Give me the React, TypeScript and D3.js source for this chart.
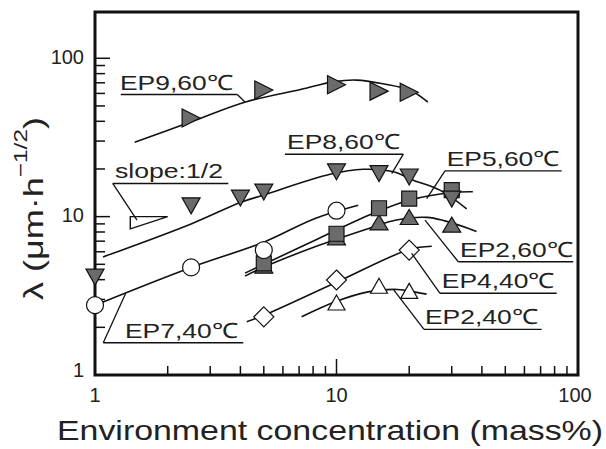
import React from 'react';
import * as d3 from 'd3';

// measured points (concentration in mass%, lambda)
const ep9X = [2.5, 5, 10, 15, 20];
const ep9Y = [42, 63, 68, 62, 61];
const ep8X = [1, 2.5, 4, 5, 10, 15, 20, 30];
const ep8Y = [4.15, 11.7, 13.1, 14.3, 19.2, 18.7, 17.8, 12.9];
const ep5X = [5, 10, 15, 20, 30];
const ep5Y = [5.07, 7.8, 11.3, 13.0, 14.7];
const ep2hX = [5, 10, 15, 20, 30];
const ep2hY = [4.9, 7.4, 9.2, 9.95, 8.9];
const ep7X = [1, 2.5, 5, 10];
const ep7Y = [2.76, 4.78, 6.15, 10.9];
const ep4X = [5, 10, 20];
const ep4Y = [2.33, 3.98, 6.15];
const ep2lX = [10, 15, 20];
const ep2lY = [2.87, 3.66, 3.4];

// fitted curves
const ep9Fit = [[1.46, 29.5], [2.5, 39.7], [4.2, 53], [7.1, 63.5], [9.7, 71], [12.1, 72.8], [15.6, 69], [20.2, 62.8], [23.9, 52.8]];
const ep8Fit = [[1.08, 5.57], [2.5, 9.0], [4, 12.3], [5, 13.7], [9.4, 18.5], [12.9, 19.9], [17.2, 19.2], [20.8, 17], [26.8, 14.7], [34.6, 11.2]];
const ep5Fit = [[4.18, 4.4], [5, 5.0], [8.15, 7.1], [14.2, 10.5], [20, 12.7], [30, 14.2], [36.7, 14.35]];
const ep2hFit = [[4.18, 4.21], [5, 4.8], [8.15, 6.45], [14.2, 8.6], [17.5, 9.5], [23.7, 9.9], [28.1, 9.4], [35, 8.45], [38, 8.05]];
const ep7Fit = [[1, 2.76], [2.5, 4.78], [5, 6.9], [8.15, 9.74], [12.3, 11.8]];
const ep4Fit = [[4.25, 2.17], [5, 2.38], [10, 3.85], [20, 6.2], [24.8, 6.5]];
const ep2lFit = [[7.17, 2.33], [10, 2.92], [13.5, 3.35], [17.8, 3.47], [19.8, 3.4], [23.6, 3.24]];

const slopeTri = [[1.4, 10], [1.4, 8.37], [2, 10]];

// annotations
const noteText = ['EP9,60℃', 'slope:1/2', 'EP8,60℃', 'EP5,60℃', 'EP2,60℃', 'EP4,40℃', 'EP2,40℃', 'EP7,40℃'];
const noteX0 = [1.278, 1.184, 6.118, 28.14, 31.94, 26.83, 23.03, 1.082];
const noteX1 = [3.884, 3.565, 18.91, 85.6, 95.6, 81.6, 70.7, 4.112];
const noteY = [59.0, 16.2, 24.8, 19.45, 5.19, 3.28, 1.942, 1.6];
const noteTextX = [1.269, 1.21, 6.24, 28.6, 32.5, 27.3, 23.25, 1.331];
const noteFromEnd = [true, false, true, false, false, false, false, false];
const noteTargetX = [4.179, 1.492, 16.93, 23.63, 23.25, 20.48, 17.19, 1.34];
const noteTargetY = [53.0, 9.5, 18.7, 13.0, 9.5, 5.86, 3.47, 3.28];

const majorTicks = [1, 10, 100];
const majorLabels = ['1', '10', '100'];
const minorTicks = [2, 3, 4, 5, 6, 7, 8, 9, 20, 30, 40, 50, 60, 70, 80, 90];

const W = 606, H = 449;
const left = 95, right = 578, top = 12, bottom = 375;
const font = 'Liberation Sans, Arial, Helvetica, sans-serif';
const gray = '#6b6b6b';

const x = d3.scaleLog().domain([1, 100]).range([left, right]);
const y = d3.scaleLog().domain([1, 196]).range([bottom, top]);

const fitLine = d3.line<number[]>()
  .x(d => x(d[0]))
  .y(d => y(d[1]))
  .curve(d3.curveCatmullRom.alpha(0.5));

const triUp = (w, h) => `M0,${-h / 2}L${w / 2},${h / 2}L${-w / 2},${h / 2}Z`;
const triDown = (w, h) => `M0,${h / 2}L${w / 2},${-h / 2}L${-w / 2},${-h / 2}Z`;
const triRight = (w, h) => `M${w / 2},0L${-w / 2},${-h / 2}L${-w / 2},${h / 2}Z`;
const square = s => `M${-s / 2},${-s / 2}h${s}v${s}h${-s}Z`;
const diamond = d => `M0,${-d / 2}L${d / 2},0L0,${d / 2}L${-d / 2},0Z`;

const Markers = ({ xs, ys, path, fill, circle = false }) => (
  <g>
    {xs.map((v, i) => circle ? (
      <circle key={i} cx={x(v)} cy={y(ys[i])} r={8.5} fill={fill} stroke="#111" strokeWidth={1.2} />
    ) : (
      <path key={i} d={path} transform={`translate(${x(v)},${y(ys[i])})`} fill={fill} stroke="#111" strokeWidth={1.2} />
    ))}
  </g>
);

export default function App() {
  const fits = [ep9Fit, ep8Fit, ep5Fit, ep2hFit, ep7Fit, ep4Fit, ep2lFit];
  return (
    <svg width={W} height={H} style={{ position: 'absolute', left: 0, top: 0, background: '#fff' }} fontFamily={font}>
      <rect x={0} y={0} width={W} height={H} fill="#fff" />

      {/* ticks */}
      {minorTicks.map(t => (
        <g key={'m' + t}>
          <line x1={left} x2={left + 10} y1={y(t)} y2={y(t)} stroke="#111" strokeWidth={1.5} />
          <line x1={x(t)} x2={x(t)} y1={bottom} y2={bottom - 9} stroke="#111" strokeWidth={1.5} />
        </g>
      ))}
      {majorTicks.map(t => (
        <g key={'M' + t}>
          <line x1={left} x2={left + 15} y1={y(t)} y2={y(t)} stroke="#111" strokeWidth={1.5} />
          <line x1={x(t)} x2={x(t)} y1={bottom} y2={bottom - 16} stroke="#111" strokeWidth={1.5} />
        </g>
      ))}

      <rect x={left} y={top} width={right - left} height={bottom - top} fill="none" stroke="#111" strokeWidth={3} />

      {/* tick labels */}
      {majorTicks.map((t, i) => (
        <text key={'yl' + t} x={84} y={y(t) + (t === 1 ? 2 : 5.5)} textAnchor="end" fontSize={20} fill="#222">{majorLabels[i]}</text>
      ))}
      {majorTicks.map((t, i) => (
        <text key={'xl' + t} x={x(t) - (t === 100 ? 3 : 0)} y={402} textAnchor="middle" fontSize={20} fill="#222">{majorLabels[i]}</text>
      ))}

      {/* axis titles */}
      <text x={57} y={440} fontSize={28} fill="#222" textLength={546} lengthAdjust="spacingAndGlyphs">Environment concentration (mass%)</text>
      <text transform="translate(43,300) rotate(-90)" fontSize={28} fill="#222" textLength={183} lengthAdjust="spacingAndGlyphs">
        λ (μm·h<tspan fontSize={19} dy={-16}>−1/2</tspan><tspan fontSize={28} dy={16}>)</tspan>
      </text>

      {/* fitted curves */}
      {fits.map((f, i) => (
        <path key={'f' + i} d={fitLine(f)} fill="none" stroke="#111" strokeWidth={1.6} />
      ))}

      {/* slope triangle */}
      <path d={`M${slopeTri.map(p => `${x(p[0])},${y(p[1])}`).join('L')}Z`} fill="#fff" stroke="#111" strokeWidth={1.4} />

      {/* markers */}
      <Markers xs={ep9X} ys={ep9Y} path={triRight(18, 18)} fill={gray} />
      <Markers xs={ep2hX} ys={ep2hY} path={triUp(18, 15)} fill={gray} />
      <Markers xs={ep5X} ys={ep5Y} path={square(15)} fill={gray} />
      <Markers xs={ep8X} ys={ep8Y} path={triDown(18, 16)} fill={gray} />
      <Markers xs={ep7X} ys={ep7Y} path="" fill="#fff" circle />
      <Markers xs={ep4X} ys={ep4Y} path={diamond(20)} fill="#fff" />
      <Markers xs={ep2lX} ys={ep2lY} path={triUp(17, 15)} fill="#fff" />

      {/* labels with leaders */}
      {noteText.map((t, i) => {
        const ly = y(noteY[i]);
        const fx = noteFromEnd[i] ? x(noteX1[i]) : x(noteX0[i]);
        return (
          <g key={'n' + i}>
            <line x1={x(noteX0[i])} x2={x(noteX1[i])} y1={ly} y2={ly} stroke="#111" strokeWidth={1.4} />
            <line x1={fx} y1={ly} x2={x(noteTargetX[i])} y2={y(noteTargetY[i])} stroke="#111" strokeWidth={1.3} />
            <text x={x(noteTextX[i])} y={ly - 5} fontSize={21} fill="#222"
              textLength={i === 1 ? 108 : 113} lengthAdjust="spacingAndGlyphs">{t}</text>
          </g>
        );
      })}
    </svg>
  );
}
